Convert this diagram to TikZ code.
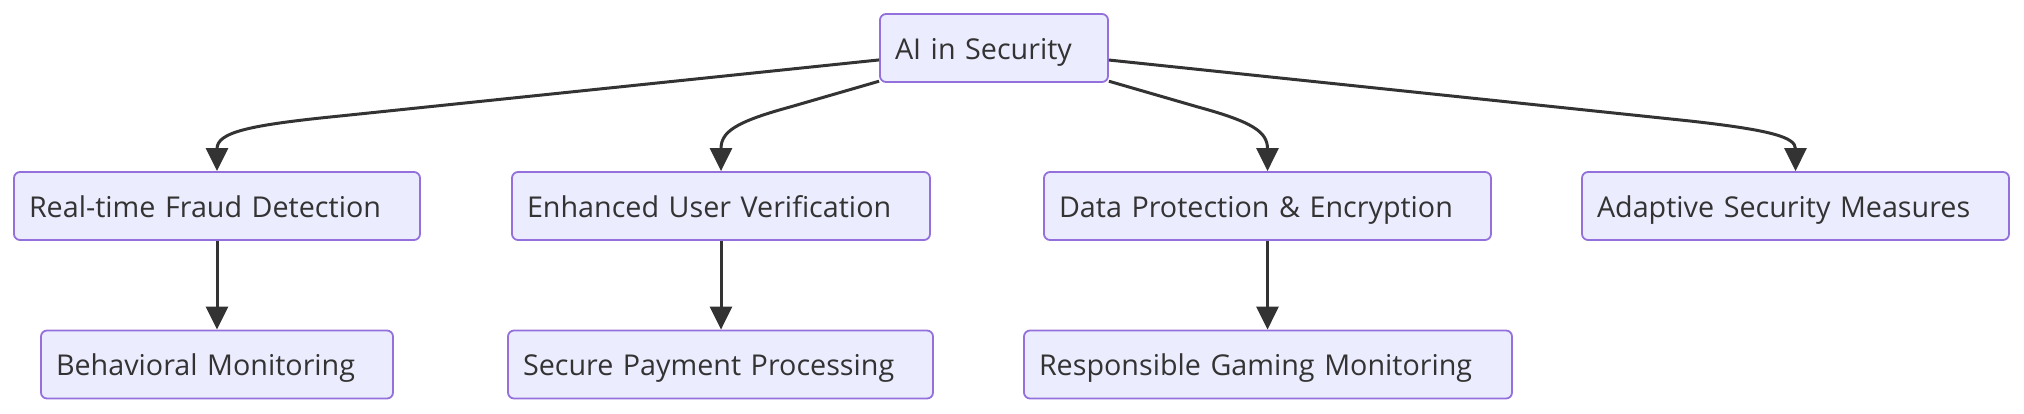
\documentclass[tikz,border=0pt]{standalone}
\usepackage{fontspec}
\setmainfont{Open Sans}
\usetikzlibrary{arrows.meta}
\definecolor{boxfill}{HTML}{ECECFF}
\definecolor{boxline}{HTML}{9370DB}
\definecolor{ink}{HTML}{333333}
\tikzset{
  box/.style={draw=boxline, fill=boxfill, line width=1.8pt, rounded corners=6pt,
    inner xsep=15pt, inner ysep=0pt, minimum height=68pt, align=left,
    text height=28pt, text depth=6pt,
    text=ink, font=\fontsize{28.7}{34}\selectfont, text width=#1},
  conn/.style={draw=ink, line width=3pt, -{Triangle[length=23pt,width=22pt]}}
}
\begin{document}
\begin{tikzpicture}[x=1pt,y=-1pt]
\useasboundingbox (0,0) rectangle (2024,413);
\node[box=198pt] (top) at (994,48) {AI in Security};
\node[box=376pt] (n1) at (217,206) {Real-time Fraud Detection};
\node[box=388pt] (n2) at (721,206) {Enhanced User Verification};
\node[box=417pt] (n3) at (1267.5,206) {Data Protection \& Encryption};
\node[box=397pt] (n4) at (1795.5,206) {Adaptive Security Measures};
\node[box=322pt] (n5) at (217,364.5) {Behavioral Monitoring};
\node[box=395pt] (n6) at (720.5,364.5) {Secure Payment Processing};
\node[box=458pt] (n7) at (1268,364.5) {Responsible Gaming Monitoring};
\draw[conn] (top) -- (340,116) .. controls (250,125) and (217,132) .. (n1.north);
\draw[conn] (top) -- (790,107) .. controls (735,122) and (721,132) .. (n2.north);
\draw[conn] (top) -- (1198,107) .. controls (1253,122) and (1267.5,132) .. (n3.north);
\draw[conn] (top) -- (1690,121) .. controls (1770,130) and (1795.5,137) .. (n4.north);
\draw[conn] (n1) -- (n5);
\draw[conn] (n2) -- (n2 |- n6.north);
\draw[conn] (n3) -- (n3 |- n7.north);
\end{tikzpicture}
\end{document}
